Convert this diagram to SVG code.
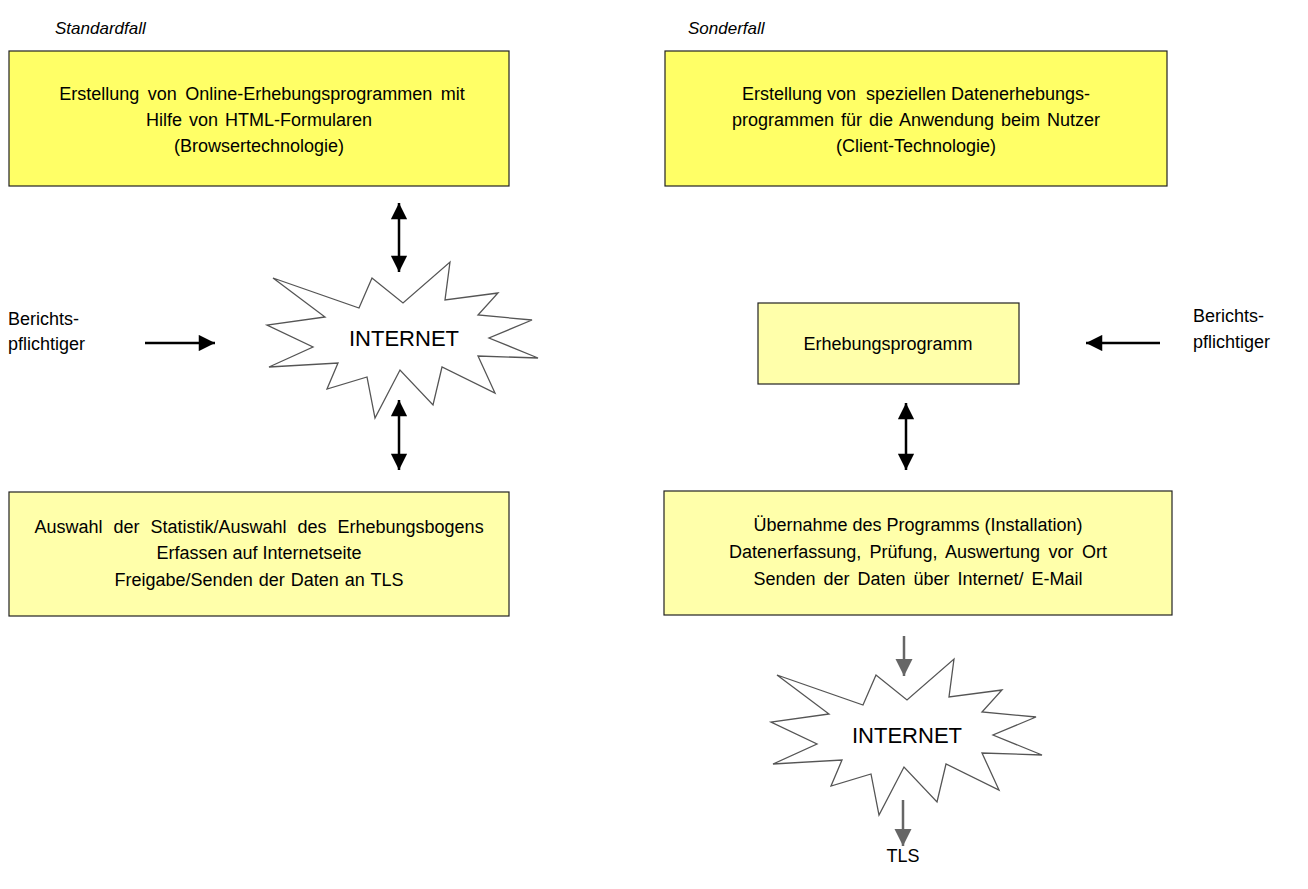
<svg xmlns="http://www.w3.org/2000/svg" width="1308" height="889" viewBox="0 0 1308 889">
<style>
text{font-family:"Liberation Sans",Arial,sans-serif;font-size:18px;fill:#000;white-space:pre}
.c{text-anchor:middle}
.i{font-style:italic;font-size:17px}
.n{font-size:22px}
.b1{fill:#ffff66;stroke:#222;stroke-width:1.2}
.b2{fill:#ffffaa;stroke:#222;stroke-width:1.2}
.burst{fill:#fff;stroke:#555;stroke-width:1.3}
.a{stroke:#000;stroke-width:2.5;fill:none}
.g{stroke:#666;stroke-width:2.5;fill:none}
</style>
<defs>
<marker id="ah" viewBox="0 0 10 10" refX="10" refY="5" markerWidth="7" markerHeight="6.5" markerUnits="strokeWidth" orient="auto-start-reverse"><path d="M0,0 L10,5 L0,10 z" fill="#000"/></marker>
<marker id="ahg" viewBox="0 0 10 10" refX="10" refY="5" markerWidth="7" markerHeight="7" markerUnits="strokeWidth" orient="auto"><path d="M0,0 L10,5 L0,10 z" fill="#666"/></marker>
<polygon id="star" class="burst" points="450,262 445,300 498,293 478,315 532,320 489,338 538,358 478,356 495,393 442,367 433,405 400,370 375,418 367,377 327,389 338,363 269,367 313,347 267,325 325,317 273,278 359,308 372,278 403,303"/>
</defs>
<text class="i" x="55" y="34">Standardfall</text>
<text class="i" x="688" y="34">Sonderfall</text>
<g id="box-online">
<rect class="b1" x="9" y="51" width="500" height="135"/>
<text class="c" x="262" y="100" word-spacing="3.5">Erstellung von Online-Erhebungsprogrammen mit</text>
<text class="c" x="259" y="126" word-spacing="2">Hilfe von HTML-Formularen</text>
<text class="c" x="259" y="152">(Browsertechnologie)</text>
</g>
<g id="box-client">
<rect class="b1" x="665" y="51" width="502" height="135"/>
<text class="c" x="916" y="100">Erstellung von  speziellen Datenerhebungs-</text>
<text class="c" x="916" y="126" word-spacing="2">programmen für die Anwendung beim Nutzer</text>
<text class="c" x="916" y="152">(Client-Technologie)</text>
</g>
<g id="internet1">
<use href="#star"/>
<text class="c n" x="404" y="346">INTERNET</text>
</g>
<g id="user-left">
<text x="8" y="325">Berichts-</text>
<text x="8" y="350">pflichtiger</text>
</g>
<g id="box-auswahl">
<rect class="b2" x="9" y="492" width="500" height="124"/>
<text class="c" x="259" y="533" word-spacing="6">Auswahl der Statistik/Auswahl des Erhebungsbogens</text>
<text class="c" x="259" y="559">Erfassen auf Internetseite</text>
<text class="c" x="259" y="586" word-spacing="1">Freigabe/Senden der Daten an TLS</text>
</g>
<g id="box-programm">
<rect class="b2" x="758" y="303" width="261" height="81"/>
<text class="c" x="888" y="350">Erhebungsprogramm</text>
</g>
<g id="user-right">
<text x="1193" y="322">Berichts-</text>
<text x="1193" y="348">pflichtiger</text>
</g>
<g id="box-uebernahme">
<rect class="b2" x="664" y="491" width="508" height="124"/>
<text class="c" x="918" y="531">Übernahme des Programms (Installation)</text>
<text class="c" x="918" y="558" word-spacing="3.4">Datenerfassung, Prüfung, Auswertung vor Ort</text>
<text class="c" x="918" y="585" word-spacing="3">Senden der Daten über Internet/ E-Mail</text>
</g>
<g id="internet2">
<use href="#star" transform="translate(504,397)"/>
<text class="c n" x="907" y="743">INTERNET</text>
</g>
<g id="tls">
<text class="c" x="903" y="862">TLS</text>
</g>
<g id="connectors">
<line class="a" x1="399" y1="203" x2="399" y2="272" marker-start="url(#ah)" marker-end="url(#ah)"/>
<line class="a" x1="399" y1="400" x2="399" y2="470" marker-start="url(#ah)" marker-end="url(#ah)"/>
<line class="a" x1="145" y1="343" x2="215" y2="343" marker-end="url(#ah)"/>
<line class="a" x1="1160" y1="343" x2="1086" y2="343" marker-end="url(#ah)"/>
<line class="a" x1="906" y1="403" x2="906" y2="470" marker-start="url(#ah)" marker-end="url(#ah)"/>
<line class="g" x1="904" y1="636" x2="904" y2="676" marker-end="url(#ahg)"/>
<line class="g" x1="903" y1="800" x2="903" y2="846" marker-end="url(#ahg)"/>
</g>
</svg>
